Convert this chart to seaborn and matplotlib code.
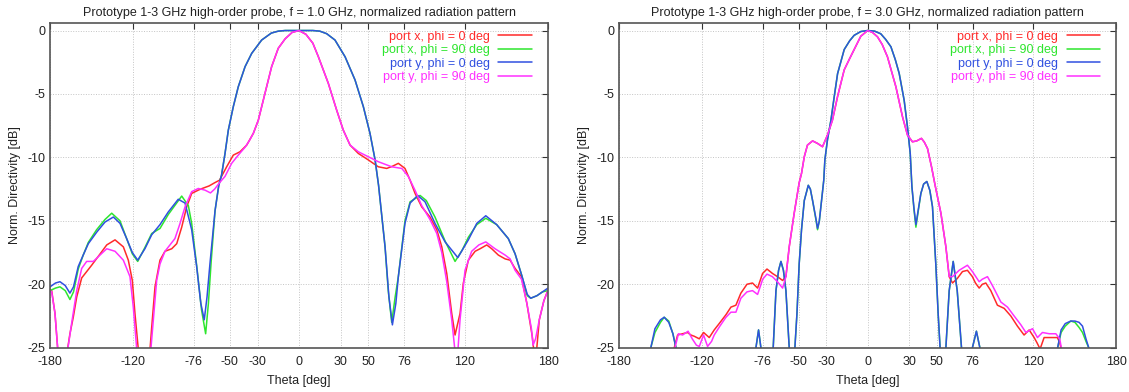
import matplotlib
matplotlib.use("Agg")
import matplotlib.pyplot as plt
import seaborn as sns
import pandas as pd

# ---------------- data ----------------
series_labels = ["port x, phi = 0 deg", "port x, phi = 90 deg",
                 "port y, phi = 0 deg", "port y, phi = 90 deg"]
series_colors = ["#ff2a2a", "#2ee62e", "#3050e0", "#ff30ff"]
titles = ["Prototype 1-3 GHz high-order probe, f = 1.0 GHz, normalized radiation pattern",
          "Prototype 1-3 GHz high-order probe, f = 3.0 GHz, normalized radiation pattern"]
x_ticks = [-180, -120, -76, -50, -30, 0, 30, 50, 76, 120, 180]
y_ticks = [0, -5, -10, -15, -20, -25]

# ---- f = 1.0 GHz ----
th1_x0 = [-180, -178.8, -176.4, -174.5, -172, -169.5, -167.3, -165.6, -163.2, -160.7, -157.1, -153.5,
          -149.9, -145.1, -139, -133, -127, -123.4, -120.5, -118.6, -116.2, -113, -110, -107.7, -106.5,
          -104.1, -100.5, -96.9, -92, -88.4, -84.8, -81.2, -77.6, -72.8, -70, -65, -61, -57.5, -52.3,
          -47.5, -42.7, -37.8, -33, -29.4, -24.6, -19.8, -15, -10, -5, 0, 5, 10, 14, 21.2, 27.2, 32,
          36.9, 42.9, 50.1, 57.3, 63.4, 67.5, 71.8, 76.6, 80.3, 83.9, 88.7, 94.7, 99.6, 103.2, 106.8,
          110.4, 112.8, 116.4, 118.8, 122.4, 127.3, 130.9, 135.7, 139.3, 144.1, 149, 152.6, 156.2,
          160.8, 164.7, 168.6, 170, 171.5, 173.7, 177, 180]
db1_x0 = [-20.4, -20.5, -22.3, -25, -28, -28, -25.1, -23.9, -22.6, -21.0, -19.5, -19.0,
          -18.5, -17.8, -16.9, -16.5, -17.05, -18.1, -19.7, -22.3, -25.1, -29, -29, -25.1, -23.4,
          -20.2, -18.1, -17.4, -17.2, -16.8, -15.5, -13.9, -12.84, -12.58, -12.45, -12.25, -12.0, -11.8, -10.74,
          -9.82, -9.56, -9.03, -8.1, -7.06, -4.95, -2.85, -1.4, -0.65, -0.15, 0, -0.3, -1.0, -2.07, -4.17, -6.27, -7.85,
          -9.03, -9.69, -10.2, -10.74, -10.87, -10.7, -10.47, -10.87, -11.8, -12.84, -13.9, -14.7, -15.7, -17.05, -19.15,
          -22.3, -24.0, -22.3, -19.9, -18.1, -17.4, -17.2, -16.9, -17.2, -17.7, -18.0, -18.1, -18.75,
          -19.4, -21.5, -24.1, -25.5, -25.5, -22.8, -21.3, -20.45]

th1_x90 = [-180, -176, -172.8, -169, -165.6, -163, -159.6, -156, -152.3, -146.3, -140.3, -135.4, -129.4,
           -124.6, -120.5, -116.6, -111.4, -106.5, -100.5, -94.5, -84.8, -80, -77.6, -74, -70.5, -67.5,
           -65.5, -63.5, -60.7, -58, -56, -53.5, -51.1, -47.5, -43.9, -39, -34.2, -27, -20, -15, -10, 0,
           10, 15, 20, 26, 33.3, 40.5, 46.5, 51.3, 55, 57.5, 62.2, 64.5, 67, 69.5, 71.8, 76.6, 80.3, 87.5, 92,
           98.3, 105.6, 112.8, 118, 122.4, 128.5, 135, 142.9, 151.3, 156.2, 161, 165, 167.5, 172, 176, 180]
db1_x90 = [-20.5, -20.3, -20.2, -20.5, -21.2, -20.6, -18.8, -17.7, -16.7, -15.7, -14.9, -14.4, -15.0,
           -16.4, -17.6, -18.2, -17.1, -16.0, -15.6, -14.5, -13.05, -13.8, -15.2, -18.5, -22.0, -23.9,
           -21.5, -18.2, -14.2, -12.2, -11.4, -9.7, -7.85, -6.0, -4.43, -2.85, -1.8, -0.75, -0.2, -0.05, 0, 0,
           0, -0.05, -0.25, -0.75, -2.07, -3.9, -6.0, -8.1, -10.2, -12.2, -17.05, -20.5, -23.0, -21.0, -19.4, -15.0, -13.5, -13.0, -13.4,
           -14.7, -16.6, -18.2, -17.3, -16.3, -15.3, -14.8, -15.3, -16.4, -17.6, -19.3, -20.9, -21.1, -20.9, -20.6, -20.5]

th1_y0 = [-180, -176, -172.8, -169, -165.6, -163, -159.6, -156, -152.3, -146.3, -140.3, -134.2, -129.4,
          -124.6, -120.5, -116.6, -111.4, -106.5, -100.5, -94.5, -87.3, -82.4, -77.6, -74, -71, -68.5,
          -66.5, -64.4, -60.7, -58, -56, -53.5, -51.1, -47.5, -43.9, -39, -34.2, -27, -20, -15, -10, 0,
          10, 15, 20, 26, 33.3, 40.5, 46.5, 51.3, 55, 57.5, 62.2, 65, 67.5, 70, 71.8, 76.6, 80.3, 85.8, 91.1,
          98.3, 105.6, 114.8, 122.4, 128.5, 135, 142.9, 151.3, 156.2, 161, 165, 167.5, 172, 176, 180]
db1_y0 = [-20.2, -19.9, -19.8, -20.1, -20.7, -20.2, -18.6, -17.7, -16.8, -15.9, -15.1, -14.7, -15.2,
          -16.4, -17.5, -18.1, -17.2, -16.1, -15.3, -14.3, -13.3, -13.6, -15.7, -18.6, -21.5, -22.8,
          -21.0, -18.4, -14.2, -12.2, -11.4, -9.7, -7.85, -6.0, -4.43, -2.85, -1.8, -0.75, -0.2, -0.05, 0, 0,
          0, -0.05, -0.25, -0.75, -2.07, -3.9, -6.0, -8.1, -10.2, -12.2, -17.05, -21.0, -23.2, -21.5, -19.4, -15.2, -13.6, -13.0, -13.5,
          -15.2, -16.66, -17.9, -16.5, -15.2, -14.6, -15.3, -16.4, -17.6, -19.3, -20.8, -21.1, -20.9, -20.6, -20.3]

th1_y90 = [-180, -178.8, -176.4, -174.5, -172, -169.5, -167, -164.4, -160.7, -157.1, -153.5, -148.7,
           -143.9, -139, -133, -127, -122.2, -119.8, -117.4, -114, -110, -107, -105.3, -102.9, -100.5,
           -96.9, -93.3, -89.7, -86, -82.4, -77.6, -72.8, -68, -64, -61, -57.5, -53.5, -48.7, -43.9, -39,
           -36, -33, -29.4, -24.6, -19.8, -15, -10, -5, 0, 5, 10, 14, 21.2, 27.2, 32, 36.9, 42.9, 50.1,
           57.3, 67, 74.3, 79, 83.9, 88.7, 94.7, 99.6, 103.2, 106.8, 110.4, 112.5, 113.5, 115, 116.4, 120,
           124.8, 130, 135, 141.7, 149, 152.6, 156.2, 160.8, 164.7, 168, 169.2, 171, 173.7, 177, 180]
db1_y90 = [-20.5, -20.6, -22.3, -25, -28, -28, -25, -23.1, -20.5, -18.75, -18.2, -18.2,
           -17.7, -17.2, -17.4, -18.1, -19.4, -21.8, -25, -29, -29, -25, -22.8, -19.7, -18.4,
           -17.4, -16.9, -16.4, -15.2, -13.9, -12.7, -12.45, -12.58, -12.8, -12.5, -12.0, -11.5, -10.47, -9.82, -9.2,
           -8.7, -8.1, -7.06, -4.95, -2.85, -1.4, -0.65, -0.15, 0, -0.3, -1.0, -2.07, -4.17, -6.27, -7.85, -9.03, -9.56, -9.95,
           -10.34, -10.74, -10.87, -11.5, -12.6, -13.8, -14.9, -16.0, -17.5, -19.8, -22.8, -25, -26, -25, -22.8, -18.9,
           -17.4, -16.9, -16.66, -17.2, -17.7, -18.0, -18.9, -19.6, -21.5, -23.5, -24.8, -24.3, -22.8, -21.3, -20.5]

# ---- f = 3.0 GHz ----
th3_x0 = [-180, -150, -141, -140, -137.6, -134, -130.4, -128, -125.5, -121.9, -118.8, -114.7, -111.1,
          -107.5, -102.6, -99, -95.4, -91.8, -87.4, -83.4, -79.7, -76.1, -72.9, -68.9, -65.3, -61.6,
          -59.2, -56.8, -53.2, -49.6, -47.9, -45.9, -43.6, -39.9, -36.3, -32.7, -29.1, -25.5, -21.8, -17,
          -13, -9.8, -5, 0, 3.5, 7.1, 10.5, 14.3, 20.4, 25.2, 28.8, 32.4, 35.5, 38.9, 41, 43.3, 46.2, 48.8,
          53, 56.6, 59, 61.4, 64.8, 68.6, 72.2, 75.8, 78, 80.7, 83, 85.5, 89.1, 93.9, 98.8, 103.6, 108.4,
          113.2, 116.9, 120.5, 122.5, 124.8, 127.7, 132.5, 137.3, 139, 141, 145, 180]
db3_x0 = [-32, -29, -26, -25, -24.0, -23.9, -23.8, -24.0, -24.1, -24.3, -23.8, -24.2, -23.6,
          -23.1, -22.4, -21.8, -21.65, -20.7, -20.0, -19.9, -20.3, -19.15, -18.8, -19.15, -19.4, -19.7,
          -19.4, -17.05, -14.4, -12.0, -11.26, -9.95, -9.03, -8.7, -8.9, -9.16, -8.24, -7.06, -5.2, -3.1,
          -2.2, -1.5, -0.45, 0, -0.15, -0.5, -1.1, -2.07, -4.43, -6.8, -8.24, -8.77, -8.7, -8.5, -8.8, -9.3, -10.74, -12.2,
          -14.4, -17.05, -19.4, -19.9, -19.55, -19.0, -18.9, -19.4, -19.9, -20.3, -20.0, -19.9, -20.5, -21.65, -21.9, -22.5, -23.3,
          -24.0, -23.6, -24.2, -24.6, -25.1, -24.2, -24.2, -24.2, -24.6, -25.5, -29, -32]

th3_y90 = [-180, -150, -141, -139.5, -137, -134, -130, -127, -124, -121.9, -118.8, -115.9, -113, -111.1,
           -107, -102.6, -99, -95.4, -91.8, -87.4, -83.4, -79.7, -76, -72.9, -69, -65.3, -61.6, -59.2,
           -56.8, -53.2, -49.6, -47.9, -45.9, -43.6, -39.9, -36.3, -32.7, -29.1, -25.5, -21.8, -17,
           -13, -9.8, -5, 0, 3.5, 7.1, 10.5, 14.3, 20.4, 25.2, 28.8, 32.4, 35.5, 38.9, 41, 43.3, 46.2, 48.8,
           53, 56.6, 59, 61.4, 66.2, 72.2, 75.8, 80.7, 83, 86.7, 90.3, 96.4, 101.2, 106, 110.9, 114.5,
           119.3, 122.9, 126.5, 131.4, 136.2, 139, 141, 145, 180]
db3_y90 = [-32, -29, -26, -25, -23.9, -24.0, -23.7, -24.3, -24.8, -24.9, -24.0, -24.9, -24.5, -24.0,
           -23.3, -22.6, -22.2, -22.2, -21.1, -20.6, -20.5, -20.8, -19.6, -19.2, -19.4, -19.8, -20.3, -19.4,
           -17.05, -14.4, -12.0, -11.26, -9.95, -9.03, -8.7, -8.9, -9.16, -8.24, -7.06, -5.2, -3.1,
           -2.2, -1.5, -0.45, 0, -0.15, -0.5, -1.1, -2.07, -4.43, -6.8, -8.24, -8.77, -8.7, -8.5, -8.8, -9.3, -10.74, -12.2,
           -14.4, -17.05, -19.4, -19.4, -18.9, -18.5, -19.0, -19.8, -19.6, -19.4, -20.1, -21.4, -21.8, -22.5, -23.2, -23.8,
           -23.5, -24.2, -23.8, -23.9, -23.9, -24.3, -25.5, -29, -32]

th3_y0 = [-180, -165, -157, -154, -150, -147.3, -144, -141, -138.8, -135, -110, -85, -80.9, -79, -77.3,
          -74, -70, -68.4, -66.4, -64.5, -62.8, -61, -59.2, -56.8, -55, -52.7, -51.2, -49.6, -47.9, -45.9,
          -43, -41.5, -39.9, -37.5, -36.3, -35, -33.4, -31.8, -31, -29.1, -26.6, -24.2, -21.8, -17, -13,
          -9.8, -5, 0, 5, 9.5, 13, 16.8, 20, 22.8, 26.4, 28.8, 30.8, 32, 33.5, 34.9, 36.5, 38.5, 40.5, 42.8,
          45, 46.9, 49.3, 51, 52.4, 54, 56.6, 59, 61.9, 64.8, 67.9, 70, 74, 75.8, 78.7, 81.2, 84, 110, 135,
          137.5, 140, 143, 147, 150, 153, 155.5, 158, 160, 163, 180]
db3_y0 = [-32, -30, -25, -23.5, -22.8, -22.6, -23.0, -23.9, -25, -29, -32, -30, -25, -23.6, -25,
          -30, -28, -25, -20.5, -18.9, -18.2, -18.9, -20.5, -25, -30, -25, -22.3, -18.4, -15.7, -13.4,
          -12.2, -12.5, -13.4, -14.8, -15.6, -15.0, -13.4, -11.8, -10.2, -8.6, -7.06, -5.2, -3.4, -1.5, -0.8,
          -0.38, -0.08, 0, -0.05, -0.26, -0.7, -1.28, -2.3, -3.38, -5.5, -7.6, -9.7, -12.3, -14.0, -15.3, -14.2, -12.84, -12.1, -11.9,
          -12.6, -13.9, -18.4, -22.3, -25, -30, -25, -20.5, -18.2, -20.5, -25, -30, -29, -25, -23.7, -25, -30, -32, -29,
          -25, -23.6, -23.1, -22.9, -22.9, -23.0, -23.3, -24.3, -25, -29, -32]

th3_x90 = th3_y0
db3_x90 = [-32, -30, -25, -23.8, -23.0, -22.6, -22.9, -23.9, -25, -29, -32, -30, -25, -23.6, -25,
           -30, -28, -25, -20.5, -18.9, -18.2, -18.9, -20.5, -25, -30, -25, -22.3, -18.4, -15.7, -13.4,
           -12.2, -12.5, -13.4, -14.9, -15.7, -15.0, -13.4, -11.8, -10.2, -8.6, -7.06, -5.2, -3.4, -1.5, -0.8,
           -0.38, -0.08, 0, -0.05, -0.26, -0.7, -1.28, -2.3, -3.38, -5.5, -7.6, -9.7, -12.3, -14.1, -15.5, -14.3, -12.84, -12.1, -11.9,
           -12.6, -13.9, -18.4, -22.3, -25, -30, -25, -20.5, -18.2, -20.5, -25, -30, -29, -25, -23.7, -25, -30, -32, -29,
           -25, -23.8, -23.3, -22.9, -23.0, -23.4, -23.8, -24.5, -25, -29, -32]

panels = [
    [(th1_x0, db1_x0), (th1_x90, db1_x90), (th1_y0, db1_y0), (th1_y90, db1_y90)],
    [(th3_x0, db3_x0), (th3_x90, db3_x90), (th3_y0, db3_y0), (th3_y90, db3_y90)],
]

# ---------------- style ----------------
sns.set_style("white")
plt.rcParams["font.family"] = ["Liberation Sans", "DejaVu Sans"]
plt.rcParams["axes.unicode_minus"] = False

fig = plt.figure(figsize=(11.29, 3.92), dpi=100)
ax_rects = [[0.0443, 0.1130, 0.4411, 0.8276], [0.5483, 0.1130, 0.4405, 0.8276]]
text_col = "#222222"

for rect, title, series in zip(ax_rects, titles, panels):
    ax = fig.add_axes(rect)
    for (th, db), lab, col in zip(series, series_labels, series_colors):
        df = pd.DataFrame({"theta": th, "dB": db})
        sns.lineplot(data=df, x="theta", y="dB", ax=ax, color=col, label=lab,
                     linewidth=1.1, estimator=None, sort=False)
    ax.set_xlim(-180, 180)
    ax.set_ylim(-25, 0.57)
    ax.set_xticks(x_ticks)
    ax.set_xticklabels([str(t) for t in x_ticks])
    ax.set_yticks(y_ticks)
    ax.set_yticklabels([str(t) for t in y_ticks])
    ax.tick_params(axis="both", direction="in", length=4, width=0.8, color="#333333",
                   top=True, right=True, labelsize=9, labelcolor=text_col)
    ax.tick_params(axis="x", pad=6)
    ax.tick_params(axis="y", pad=3)
    ax.grid(True, linestyle=(0, (1, 1.6)), color="#c4c4c4", linewidth=0.7)
    for sp in ax.spines.values():
        sp.set_color("#555555")
        sp.set_linewidth(1.2)
    ax.set_xlabel("Theta [deg]", fontsize=9, color=text_col, labelpad=5)
    ax.set_ylabel("Norm. Directivity [dB]", fontsize=9, color=text_col)
    ax.yaxis.set_label_coords(-0.058, 0.5)
    ax.set_title(title, fontsize=9, color=text_col, pad=5)
    leg = ax.legend(loc="upper right", bbox_to_anchor=(0.983, 1.0), frameon=False,
                    markerfirst=False, labelcolor="linecolor", fontsize=9,
                    handlelength=2.7, handletextpad=0.7, labelspacing=0.12,
                    borderaxespad=0.3, borderpad=0.3)
    for col in leg._legend_handle_box.get_children():
        col.align = "right"

fig.savefig("out.png", dpi=100)
